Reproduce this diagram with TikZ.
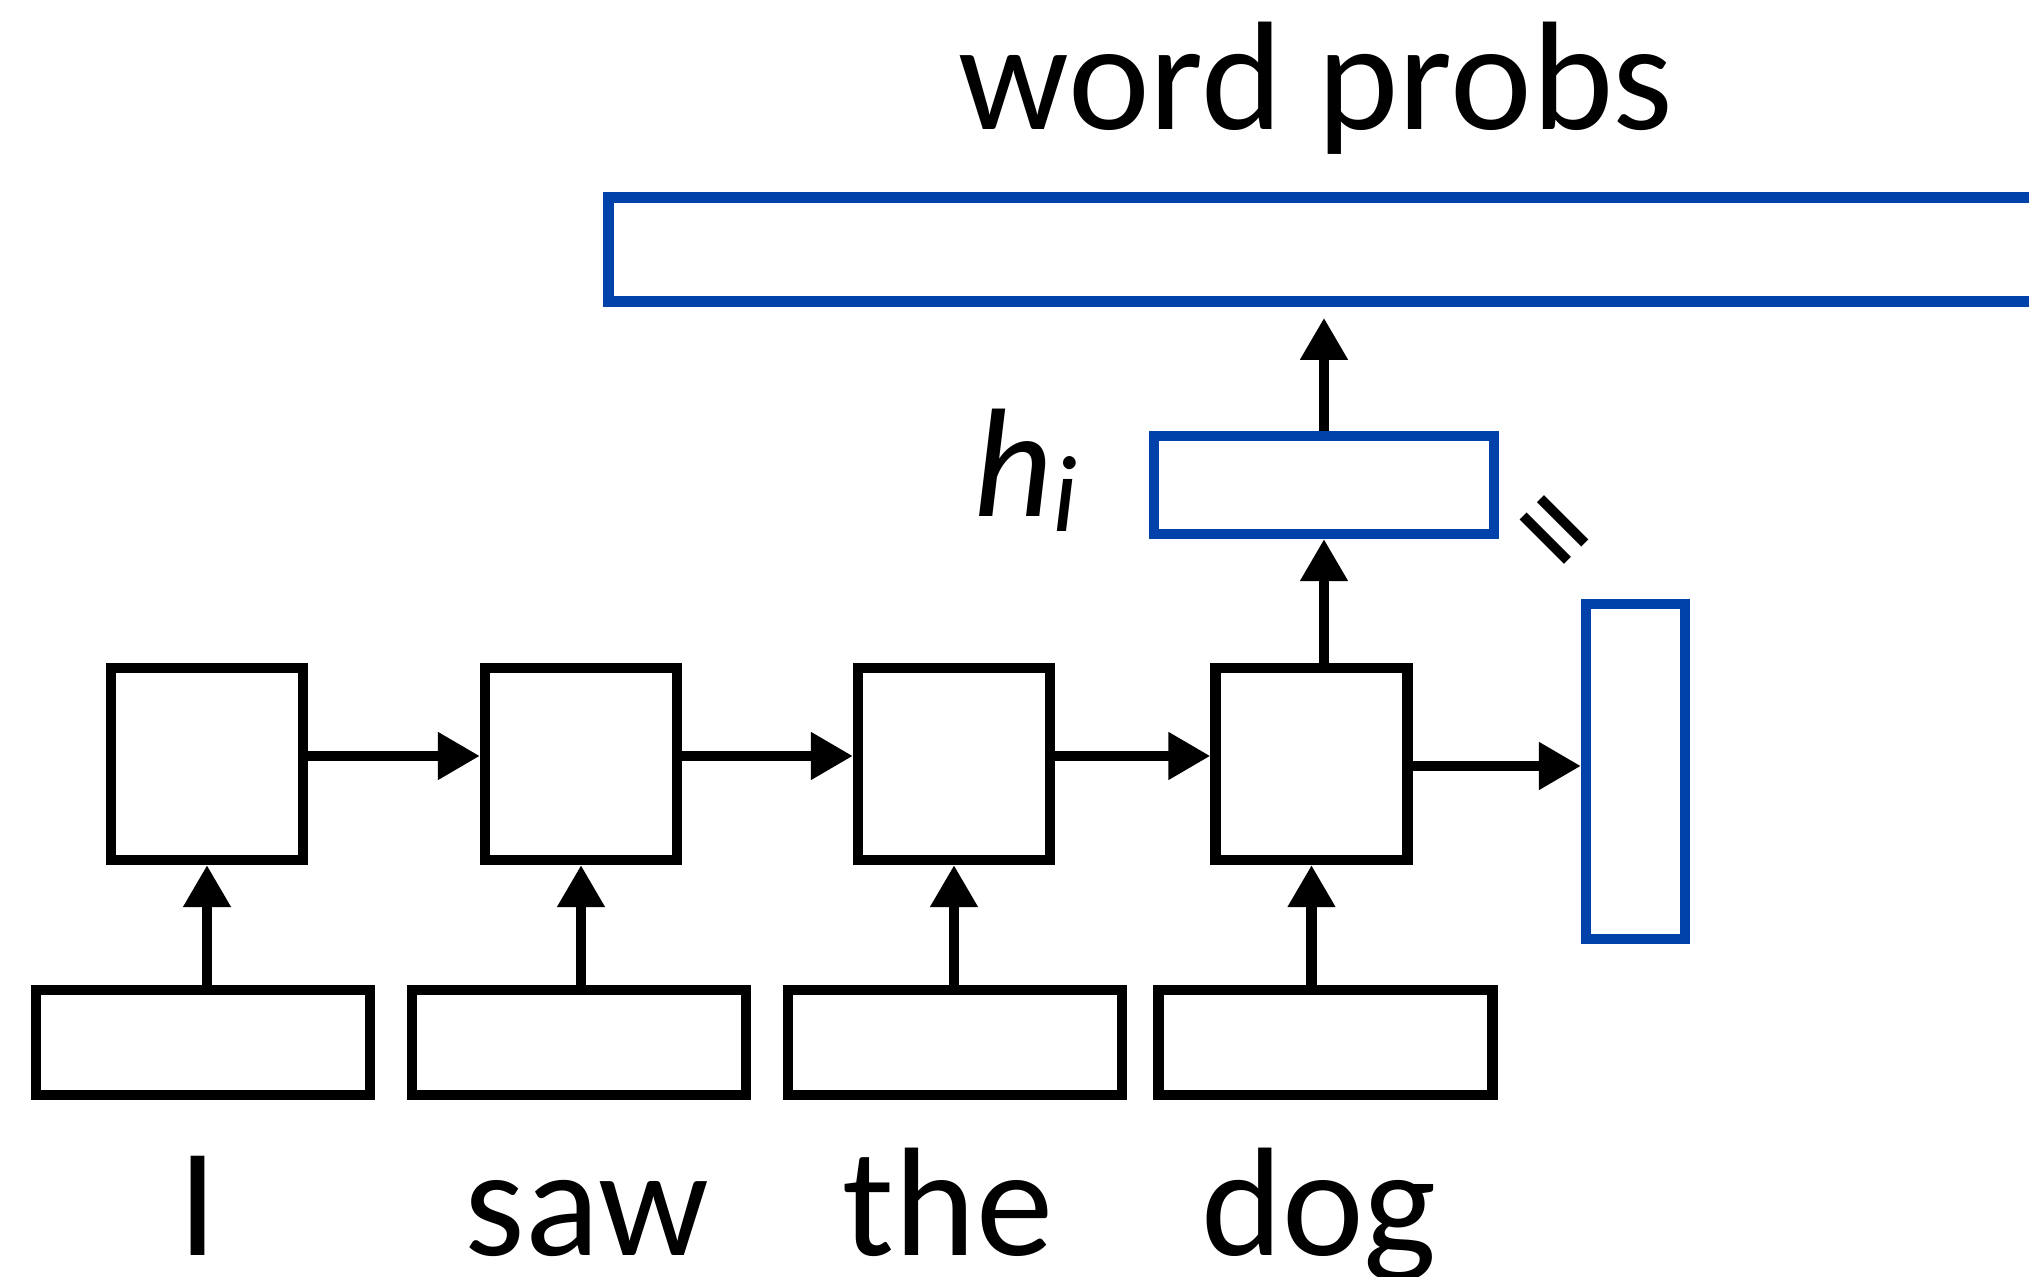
\documentclass[tikz,border=0pt]{standalone}
\usepackage{fontspec}
\setmainfont{Carlito}
\usepackage{tikz}
\usetikzlibrary{arrows.meta}
\definecolor{vecblue}{RGB}{0,65,170}

\begin{document}
\begin{tikzpicture}
              [x=0.01cm,y=-0.01cm,line width=0.105cm,>={Triangle[width=0.45cm,length=0.42cm]},
                every node/.style={rectangle,inner sep=0pt},
                cell/.style={draw,minimum width=1.915cm,minimum height=1.915cm},
                embed/.style={draw,minimum width=3.335cm,minimum height=1.045cm},
                vec/.style={draw=vecblue},
                word/.style={draw=none,anchor=base,font=\fontsize{44pt}{53pt}\selectfont}]
              \useasboundingbox (0,0) rectangle (2029,1277);
              \node[cell] (r1) at (207,764) {};
              \node[cell] (r2) at (581,764) {};
              \node[cell] (r3) at (954,764) {};
              \node[cell] (r4) at (1311.5,764) {};
              \node[embed] (e1) at (203,1042.5) {};
              \node[embed] (e2) at (579,1042.5) {};
              \node[embed] (e3) at (955,1042.5) {};
              \node[embed] (e4) at (1325.5,1042.5) {};
              \node[word] (w1) at (198,1256) {I};
              \node[word] (w2) at (587,1256) {saw};
              \node[word] (w3) at (948,1256) {the};
              \node[word] (w4) at (1319,1256) {dog};
              \node[vec,minimum width=0.985cm,minimum height=3.345cm] (last) at (1635.5,771.5) {};
              \node[vec,minimum width=3.395cm,minimum height=0.975cm] (hi) at (1324,485) {};
              \node[vec,minimum width=14.91cm,minimum height=1.04cm] (probs) at (1354.5,249.5) {};
              \node[word] (probslabel) at (1316,130) {word probs};
              \node[word,anchor=base west] (hilabel) at (968,517)
                {\itshape h\raisebox{-4.2pt}{\fontsize{31pt}{31pt}\selectfont i}};
              \node[word,anchor=center,rotate=-45] (eq) at (1543,541) {=};
              \foreach \from/\to in {r1/r2,r2/r3,r3/r4}
              \draw[->] ([yshift=0.08cm]\from.east) -- ([yshift=0.08cm]\to.west);
              \foreach \i in {1,...,4}
              \draw[->] (r\i.south |- e\i.north) -- (r\i.south);
              \coordinate (out4) at ([yshift=-0.02cm]r4.east);
              \draw[->] (out4) -- (out4 -| last.west);
              \draw[->] (hi.south |- r4.north) -- (hi.south);
              \draw[->,shorten >=0.11cm] (hi.north) -- (hi.north |- probs.south);
            \end{tikzpicture}
\end{document}
